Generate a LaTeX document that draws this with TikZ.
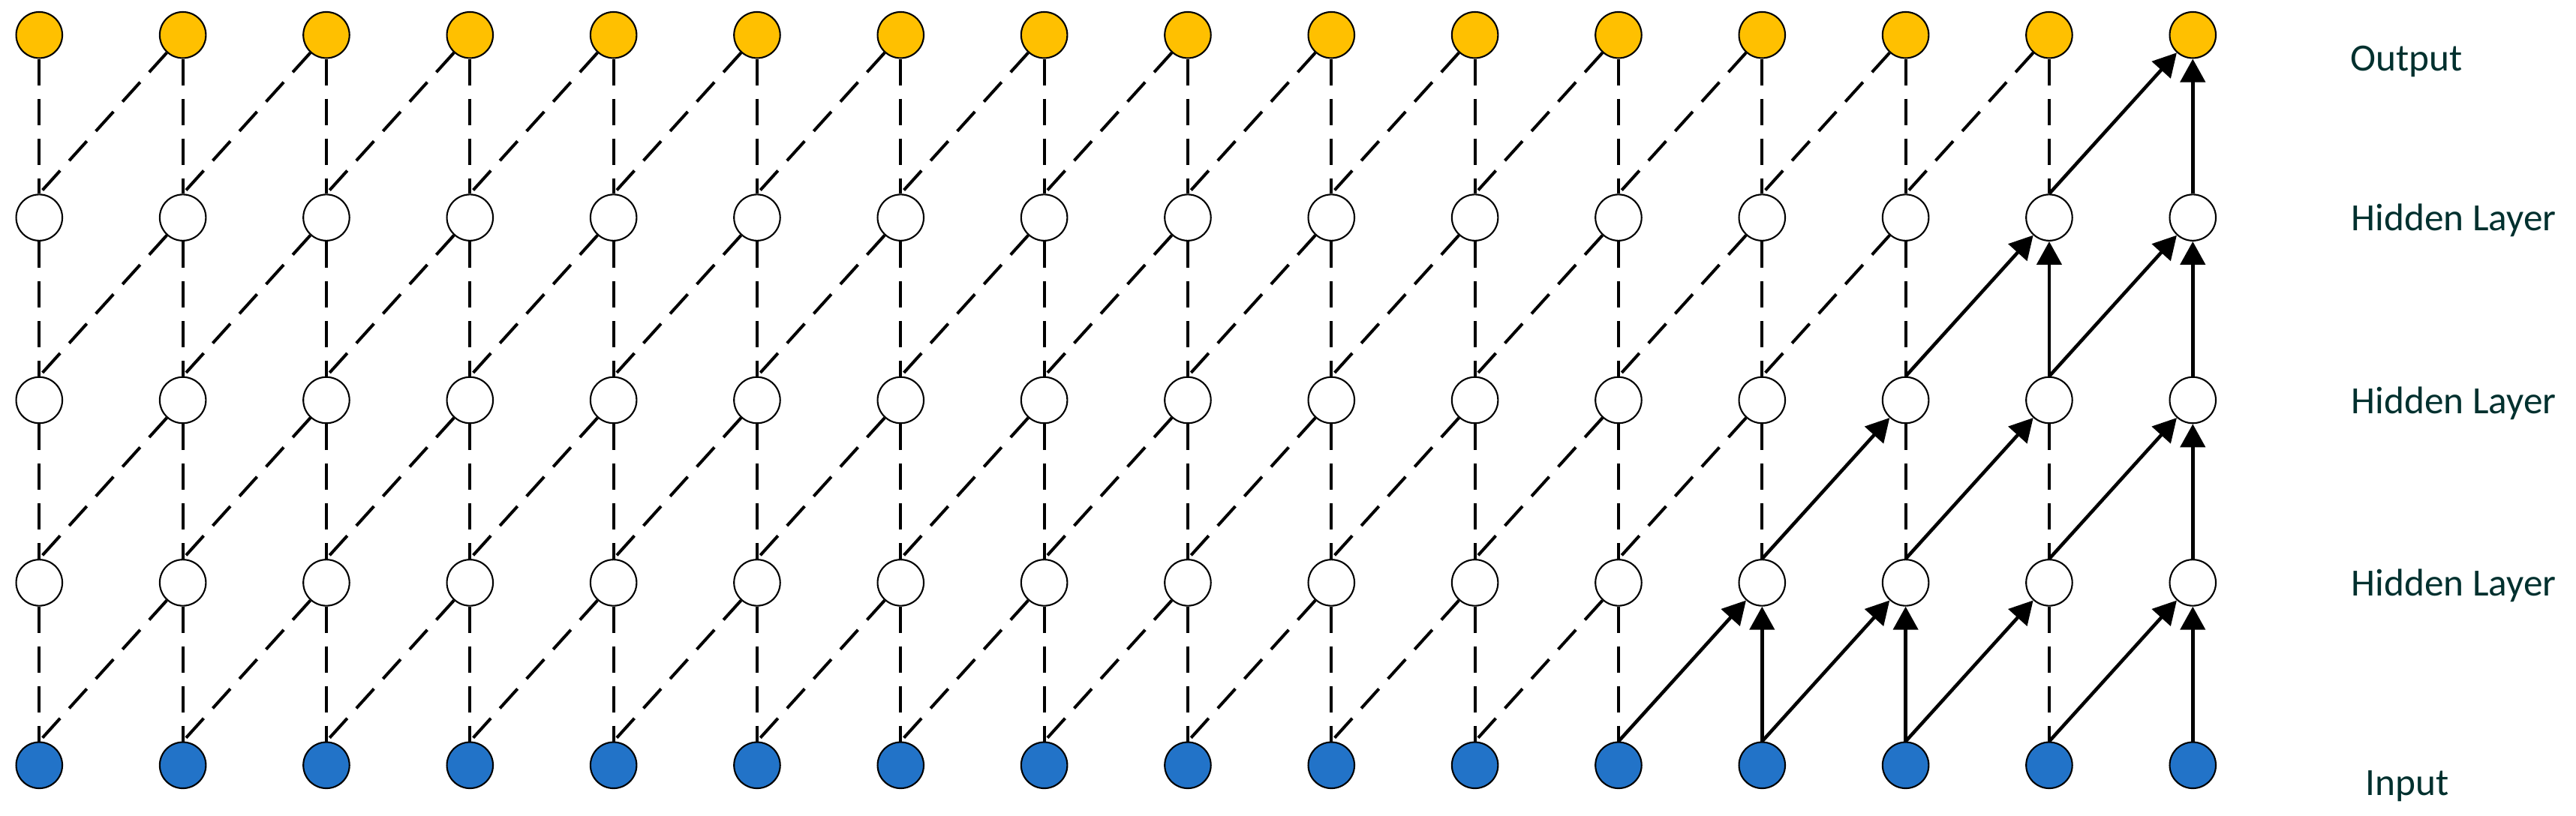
\documentclass[tikz,border=0pt]{standalone}
\usepackage{fontspec}
\setmainfont{Carlito}
\usetikzlibrary{arrows.meta}
\definecolor{outcol}{HTML}{FFC000}
\definecolor{incol}{HTML}{2273C8}
\definecolor{labcol}{HTML}{00302E}
\begin{document}
\begin{tikzpicture}[x=1cm,y=1cm,
  neuron/.style={circle,draw=black,line width=0.6pt,minimum size=0.615cm,inner sep=0pt},
  outn/.style={neuron,fill=outcol},
  hidn/.style={neuron,fill=white},
  inn/.style={neuron,fill=incol},
  dashedge/.style={line width=1.15pt,dash pattern=on 0.35cm off 0.18cm},
  solidedge/.style={line width=1.3pt,-{Triangle[length=0.31cm,width=0.33cm]}},
  lab/.style={font=\fontsize{14.6}{17}\selectfont,text=labcol,inner sep=0pt,anchor=base west}]
\useasboundingbox (0,0) rectangle (34.33,10.87);
% nodes
\foreach \c in {0,...,15} {
  \pgfmathsetmacro{\xx}{0.523+1.9133*\c}
  \node[inn]  (n-0-\c) at (\xx,0.667) {};
  \node[hidn] (n-1-\c) at (\xx,3.101) {};
  \node[hidn] (n-2-\c) at (\xx,5.535) {};
  \node[hidn] (n-3-\c) at (\xx,7.969) {};
  \node[outn] (n-4-\c) at (\xx,10.403) {};
}
% dashed verticals
\foreach \c in {0,...,11,14} \draw[dashedge] (n-1-\c) -- (n-0-\c);
\foreach \c in {0,...,14} \draw[dashedge] (n-2-\c) -- (n-1-\c);
\foreach \c in {0,...,13} \draw[dashedge] (n-3-\c) -- (n-2-\c);
\foreach \c in {0,...,14} \draw[dashedge] (n-4-\c) -- (n-3-\c);
% dashed diagonals
\foreach \c [evaluate=\c as \p using int(\c-1)] in {1,...,11} \draw[dashedge] (n-1-\c) -- (n-0-\p.north);
\foreach \c [evaluate=\c as \p using int(\c-1)] in {1,...,12} \draw[dashedge] (n-2-\c) -- (n-1-\p.north);
\foreach \c [evaluate=\c as \p using int(\c-1)] in {1,...,13} \draw[dashedge] (n-3-\c) -- (n-2-\p.north);
\foreach \c [evaluate=\c as \p using int(\c-1)] in {1,...,14} \draw[dashedge] (n-4-\c) -- (n-3-\p.north);
% solid verticals
\foreach \c in {12,13,15} \draw[solidedge] (n-0-\c) -- (n-1-\c);
\draw[solidedge] (n-1-15) -- (n-2-15);
\foreach \c in {14,15} \draw[solidedge] (n-2-\c) -- (n-3-\c);
\draw[solidedge] (n-3-15) -- (n-4-15);
% solid diagonals
\foreach \c [evaluate=\c as \p using int(\c-1)] in {12,...,15} \draw[solidedge] (n-0-\p.north) -- (n-1-\c);
\foreach \c [evaluate=\c as \p using int(\c-1)] in {13,...,15} \draw[solidedge] (n-1-\p.north) -- (n-2-\c);
\foreach \c [evaluate=\c as \p using int(\c-1)] in {14,15} \draw[solidedge] (n-2-\p.north) -- (n-3-\c);
\draw[solidedge] (n-3-14.north) -- (n-4-15);
% labels
\node[lab] (lout) at (31.32,9.93) {Output};
\node[lab] (lh3) at (31.33,7.80) {Hidden Layer};
\node[lab] (lh2) at (31.33,5.36) {Hidden Layer};
\node[lab] (lh1) at (31.33,2.93) {Hidden Layer};
\node[lab] (lin) at (31.52,0.27) {Input};
\end{tikzpicture}
\end{document}
